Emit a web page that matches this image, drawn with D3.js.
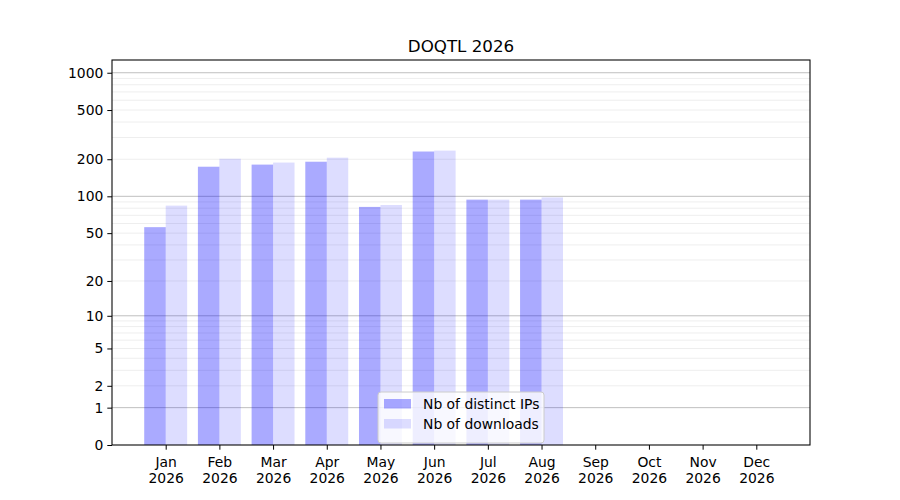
<!DOCTYPE html>
<html>
<head>
<meta charset="utf-8">
<script src="https://cdn.jsdelivr.net/npm/d3@7"></script>
<style>
  body { margin: 0; background: #fff; }
  svg { font-family: "DejaVu Sans", sans-serif; }
</style>
</head>
<body>
<svg id="chart" width="900" height="500"></svg>
<script>
// data
var months = ["Jan", "Feb", "Mar", "Apr", "May", "Jun", "Jul", "Aug", "Sep", "Oct", "Nov", "Dec"];
var year = "2026";
var distinctIPs = [56, 174, 181, 191, 82, 231, 94, 94];
var downloads = [84, 202, 188, 206, 85, 235, 94, 98];
var yTicks = [0, 1, 2, 5, 10, 20, 50, 100, 200, 500, 1000];
var seriesNames = ["Nb of distinct IPs", "Nb of downloads"];

var fs = 13.9;

var margin = { top: 60, right: 90, bottom: 55, left: 112 },
    width = 900 - margin.left - margin.right,
    height = 500 - margin.top - margin.bottom;

var svg = d3.select("#chart")
    .append("g")
    .attr("transform", "translate(" + margin.left + "," + margin.top + ")");

var x = d3.scaleLinear().domain([-1, 12]).range([0, width]);
var y = d3.scaleSymlog().constant(1).domain([0, 1267]).range([height, 0]);

// grid lines: minor 2..9 per decade, major at decades
var minor = [], major = [1, 10, 100, 1000];
[1, 10, 100].forEach(function (d) {
    for (var m = 2; m <= 9; m++) minor.push(d * m);
});

svg.append("g").selectAll("line")
    .data(minor)
    .join("line")
    .attr("x1", 0).attr("x2", width)
    .attr("y1", function (d) { return y(d); })
    .attr("y2", function (d) { return y(d); })
    .attr("stroke", "#000")
    .attr("stroke-opacity", 0.07)
    .attr("stroke-width", 1);

svg.append("g").selectAll("line")
    .data(major)
    .join("line")
    .attr("x1", 0).attr("x2", width)
    .attr("y1", function (d) { return y(d); })
    .attr("y2", function (d) { return y(d); })
    .attr("stroke", "#000")
    .attr("stroke-opacity", 0.25)
    .attr("stroke-width", 1);

var bw = x(0.4) - x(0);

svg.append("g").selectAll("rect")
    .data(distinctIPs)
    .join("rect")
    .attr("x", function (d, i) { return x(i) - bw; })
    .attr("y", function (d) { return y(d); })
    .attr("width", bw)
    .attr("height", function (d) { return height - y(d); })
    .attr("fill", "blue")
    .attr("fill-opacity", 0.333);

svg.append("g").selectAll("rect")
    .data(downloads)
    .join("rect")
    .attr("x", function (d, i) { return x(i); })
    .attr("y", function (d) { return y(d); })
    .attr("width", bw)
    .attr("height", function (d) { return height - y(d); })
    .attr("fill", "blue")
    .attr("fill-opacity", 0.135);

// axes
var yAxis = svg.append("g")
    .call(d3.axisLeft(y).tickValues(yTicks).tickFormat(d3.format("d")).tickSize(4.7).tickPadding(4));
var xAxis = svg.append("g")
    .attr("transform", "translate(0," + height + ")")
    .call(d3.axisBottom(x).tickValues(d3.range(12)).tickFormat("").tickSize(4.7));

[yAxis, xAxis].forEach(function (a) {
    a.attr("font-size", fs).attr("font-family", "DejaVu Sans");
    a.select(".domain").remove();
    a.selectAll(".tick line").attr("stroke", "#000").attr("stroke-width", 1);
    a.selectAll("text").attr("fill", "#000");
});

var xl = xAxis.selectAll(".tick").append("text")
    .attr("text-anchor", "middle")
    .attr("fill", "#000");
xl.append("tspan").attr("x", 0).attr("y", 22).text(function (d) { return months[d]; });
xl.append("tspan").attr("x", 0).attr("y", 38).text(year);

// frame
svg.append("rect")
    .attr("width", width).attr("height", height)
    .attr("fill", "none").attr("stroke", "#000").attr("stroke-width", 1.07);

// title
svg.append("text")
    .attr("x", width / 2).attr("y", -8)
    .attr("text-anchor", "middle")
    .attr("font-size", 16.7)
    .text("DOQTL 2026");

// legend
var legend = svg.append("g").attr("transform", "translate(" + (378 - margin.left) + "," + (392 - margin.top) + ")");
legend.append("rect")
    .attr("width", 166).attr("height", 51).attr("rx", 3)
    .attr("fill", "#fff").attr("fill-opacity", 0.8)
    .attr("stroke", "#ccc").attr("stroke-width", 1);
var opac = [0.333, 0.135];
seriesNames.forEach(function (name, i) {
    var row = legend.append("g").attr("transform", "translate(6," + (7 + i * 20) + ")");
    row.append("rect").attr("width", 27).attr("height", 9.5)
        .attr("fill", "blue").attr("fill-opacity", opac[i]);
    row.append("text").attr("x", 39).attr("y", 10).attr("font-size", fs).text(name);
});
</script>
</body>
</html>
